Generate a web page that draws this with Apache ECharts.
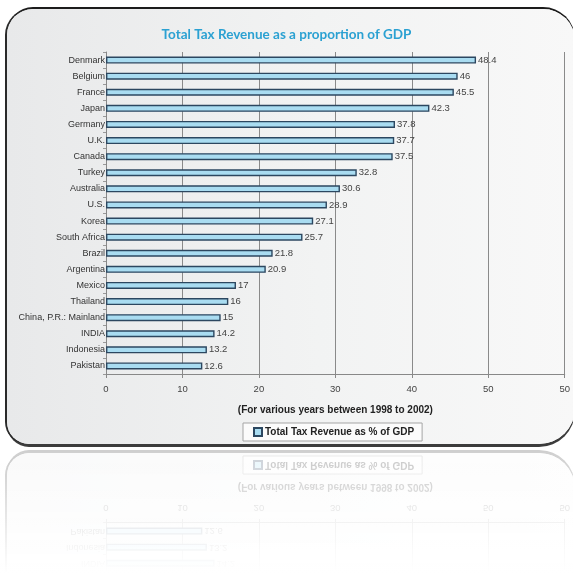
<!DOCTYPE html>
<html>
<head>
<meta charset="utf-8">
<script src="https://cdn.jsdelivr.net/npm/echarts@6/dist/echarts.min.js"></script>
<style>
  html, body { margin: 0; padding: 0; background: #fff; }
  #stage { position: relative; width: 573px; height: 574px; overflow: hidden; }
  .panel {
    position: absolute; left: 7px; top: 9px; width: 568px; height: 435px;
    border-radius: 26px 32px 36px 22px;
    background: linear-gradient(to right, #e8e9ea 0%, #f2f3f3 55%, #f8f8f8 100%);
    box-shadow: -2px 0 0 #2a2a2a, 0 -2px 0 #1c1c1c, 0 3px 0 #3c3c3c;
  }
  .chart { position: absolute; left: 0; top: 0; width: 573px; height: 574px; }
  #reflect {
    position: absolute; left: 0; top: -449px; width: 573px; height: 574px;
    transform-origin: 0 448.5px; transform: scaleY(-1); opacity: 0.25;
  }
  #clip { position: absolute; left: 0; top: 449px; width: 573px; height: 125px; overflow: hidden; }
  #fade {
    position: absolute; left: 0; top: 449px; width: 573px; height: 125px;
    background: linear-gradient(to bottom, rgba(255,255,255,0) 0%, rgba(255,255,255,0.55) 55%, #fff 100%);
  }
</style>
</head>
<body>
<div id="stage">
  <div id="clip">
    <div id="reflect">
      <div class="panel"></div>
      <div class="chart" id="chart2"></div>
    </div>
  </div>
  <div id="fade"></div>
  <div class="panel"></div>
  <div class="chart" id="chart1"></div>
</div>
<script>
var countries = ['Denmark', 'Belgium', 'France', 'Japan', 'Germany', 'U.K.', 'Canada', 'Turkey',
  'Australia', 'U.S.', 'Korea', 'South Africa', 'Brazil', 'Argentina', 'Mexico', 'Thailand',
  'China, P.R.: Mainland', 'INDIA', 'Indonesia', 'Pakistan'];
var taxShare = [48.4, 46, 45.5, 42.3, 37.8, 37.7, 37.5, 32.8, 30.6, 28.9, 27.1, 25.7,
  21.8, 20.9, 17, 16, 15, 14.2, 13.2, 12.6];
var tickLabels = ['0', '10', '20', '30', '40', '50', '50'];

function buildOption() {
  return {
    animation: false,
    backgroundColor: 'transparent',
    textStyle: { fontFamily: 'Liberation Sans, Arial, sans-serif' },
    title: {
      text: 'Total Tax Revenue as a proportion of GDP',
      left: 'center', top: 23,
      textStyle: { fontFamily: 'Lato', fontWeight: 'bold', fontSize: 13.5, color: '#2ba1d2' }
    },
    legend: {
      data: ['Total Tax Revenue as % of GDP'],
      left: 243, top: 423,
      icon: 'rect', itemWidth: 8, itemHeight: 8, itemGap: 4,
      padding: [4, 8, 4, 10],
      borderColor: '#a5a5a5', borderWidth: 1, backgroundColor: '#fbfbfb',
      textStyle: { fontSize: 10, fontWeight: 'bold', color: '#222', padding: [0, 0, 0, -2] }
    },
    grid: { left: 106, right: 7, top: 52, bottom: 200, containLabel: false },
    xAxis: {
      type: 'value', min: 0, max: 60, interval: 10,
      name: '(For various years between 1998 to 2002)',
      nameLocation: 'middle', nameGap: 31,
      nameTextStyle: { fontSize: 10, fontWeight: 'bold', color: '#222' },
      axisLine: { show: true, lineStyle: { color: '#888', width: 1 } },
      axisTick: { show: true, length: 4, lineStyle: { color: '#888' } },
      axisLabel: {
        fontSize: 9.5, color: '#444', margin: 10,
        formatter: function (v) { return tickLabels[Math.round(v / 10)]; }
      },
      splitLine: { show: true, lineStyle: { color: '#8a8a8a', width: 1 } }
    },
    yAxis: {
      type: 'category', data: countries, inverse: true,
      axisLine: { show: true, lineStyle: { color: '#888' } },
      axisTick: { show: true, length: 3, lineStyle: { color: '#999' } },
      axisLabel: { fontSize: 9, color: '#333', margin: 1 }
    },
    series: [{
      name: 'Total Tax Revenue as % of GDP',
      type: 'bar',
      data: taxShare,
      barWidth: 7,
      itemStyle: { color: '#a9dcf1', borderColor: '#2c4760', borderWidth: 1.4 },
      label: {
        show: true, position: 'right', distance: 2,
        fontSize: 9.5, color: '#444'
      }
    }]
  };
}

var chart1 = echarts.init(document.getElementById('chart1'), null, { renderer: 'canvas' });
chart1.setOption(buildOption());
var chart2 = echarts.init(document.getElementById('chart2'), null, { renderer: 'canvas' });
chart2.setOption(buildOption());
</script>
</body>
</html>
